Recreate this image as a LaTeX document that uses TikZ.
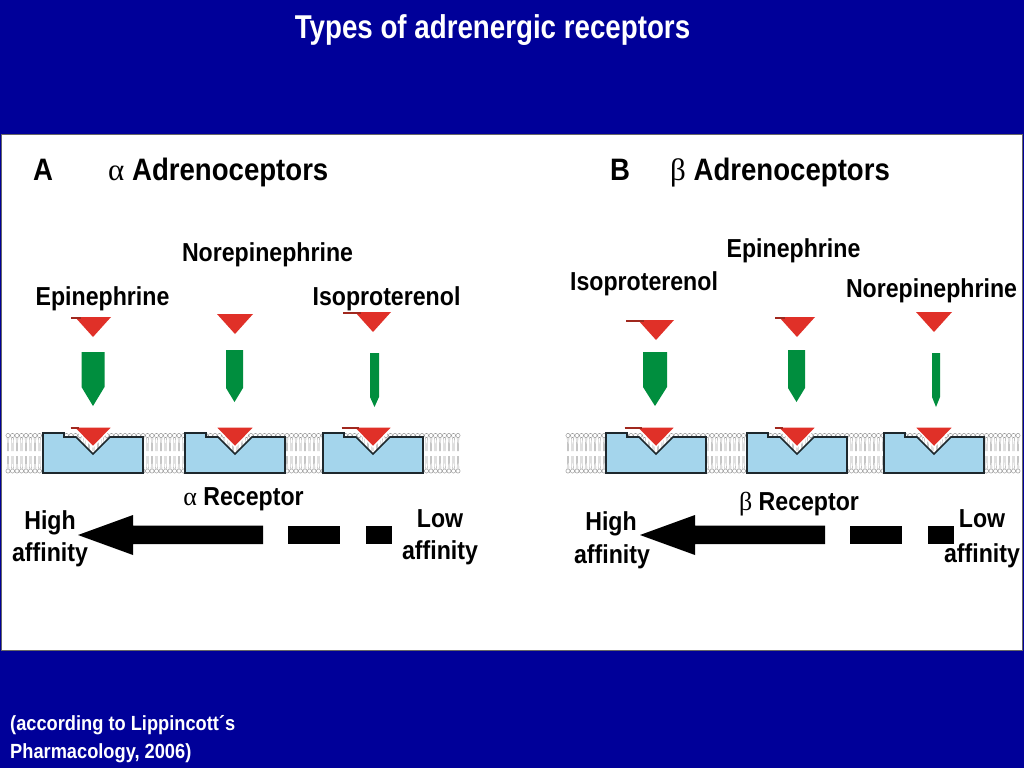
\documentclass[tikz,border=0pt]{standalone}
\usepackage{fontspec}
\setmainfont{Liberation Sans}[FakeStretch=0.89]
\newfontfamily\narrowfont[FakeStretch=0.84]{Liberation Sans}
\newfontfamily\greekfont{Liberation Serif}
\definecolor{slideblue}{RGB}{0,0,153}
\definecolor{drugred}{RGB}{224,48,40}
\definecolor{tailred}{RGB}{160,40,30}
\definecolor{pingreen}{RGB}{0,142,62}
\definecolor{recblue}{RGB}{164,213,236}
\definecolor{recline}{RGB}{30,40,45}
\newcommand{\membrane}[3]{%
  \foreach \lx in {#1,#2,...,#3} {
    \draw[lipidtail] (\lx-0.8,438) -- (\lx-0.6,451) (\lx+0.8,438) -- (\lx+0.6,451)
      (\lx-0.8,468.5) -- (\lx-0.6,456) (\lx+0.8,468.5) -- (\lx+0.6,456);
    \draw[lipidhead] (\lx,435.5) circle (2.1) (\lx,471) circle (2.1);
  }}
\newcommand{\receptor}[1]{%
  \draw[recbox] (#1-50,473) -- (#1-50,433) -- (#1-29,433) -- (#1-29,437) -- (#1-17,437)
    -- (#1,454) -- (#1+17,437) -- (#1+50,437) -- (#1+50,473) -- cycle;}
\newcommand{\drug}[3]{% tip x, top y, tail length
  \fill[drugred] (#1-18,#2) -- (#1+18,#2) -- (#1,#2+20) -- cycle;
  \ifnum#3>0 \draw[drugtail] (#1-18-#3,#2+1) -- (#1-12,#2+1);\fi}
\newcommand{\bounddrug}[2]{% notch x, tail length
  \filldraw[drugred, draw=white, line width=1.4] (#1-19.5,427) -- (#1+19.5,427) -- (#1,447) -- cycle;
  \ifnum#2>0 \draw[drugtail] (#1-19.5-#2,428) -- (#1-14,428);\fi}
\newcommand{\pin}[5]{% x, half width, top, shaft end, tip
  \fill[pingreen] (#1-#2,#3) -- (#1+#2,#3) -- (#1+#2,#4) -- (#1,#5) -- (#1-#2,#4) -- cycle;}
\newcommand{\affinity}[1]{% tip x
  \fill (#1,535) -- (#1+55,515) -- (#1+55,525.5) -- (#1+185,525.5) -- (#1+185,544)
    -- (#1+55,544) -- (#1+55,555) -- cycle;
  \fill (#1+210,525.5) rectangle (#1+262,544);
  \fill (#1+288,525.5) rectangle (#1+314,544);}
\begin{document}
\begin{tikzpicture}[x=1pt, y=-1pt,
  lipidhead/.style={draw=gray!80, fill=white, line width=0.5},
  lipidtail/.style={draw=gray!70, line width=0.45},
  recbox/.style={fill=recblue, draw=recline, line width=1.6, line join=miter},
  drugtail/.style={draw=tailred, line width=1.8},
  titletext/.style={font=\narrowfont\fontsize{33}{38}\selectfont\bfseries, text=white, anchor=base, inner sep=0pt},
  heading/.style={font=\fontsize{31}{36}\selectfont\bfseries, anchor=base west, inner sep=0pt},
  drugname/.style={font=\fontsize{26}{30}\selectfont\bfseries, anchor=base, inner sep=0pt},
  cite/.style={font=\fontsize{20.5}{24}\selectfont\bfseries, text=white, anchor=base west, inner sep=0pt}]

\useasboundingbox (0,0) rectangle (1024,768);
\fill[slideblue] (0,0) rectangle (1024,768);
\filldraw[fill=white, draw=gray!80!black, line width=1] (1,134) rectangle (1022,650);

\node[titletext] (title) at (492.5,38) {Types of adrenergic receptors};

% panel A
\node[heading] (panelA) at (33,180) {A};
\node[heading] (headA) at (108,180) {{\greekfont\mdseries α} Adrenoceptors};
\node[drugname] (epiA) at (102.5,305) {Epinephrine};
\node[drugname] (norA) at (267.5,261) {Norepinephrine};
\node[drugname] (isoA) at (386.5,305) {Isoproterenol};

\membrane{8}{12.5}{460}
\foreach \rx in {93,235,373} {\receptor{\rx}}
\bounddrug{93}{3}
\bounddrug{235}{0}
\bounddrug{373}{12}
\drug{93}{317}{4}
\drug{235}{314}{0}
\drug{373}{312}{12}
\pin{93}{11.5}{352}{387}{406}
\pin{234.5}{8.5}{350}{388}{402}
\pin{374.5}{4.5}{353}{397}{407}

\affinity{78}
\node[drugname] (recA) at (243.5,505) {{\greekfont\mdseries α} Receptor};
\node[drugname] (highA) at (50,529) {High};
\node[drugname] (highAaff) at (50,561) {affinity};
\node[drugname] (lowA) at (440,527) {Low};
\node[drugname] (lowAaff) at (440,559) {affinity};

% panel B
\node[heading] (panelB) at (610,180) {B};
\node[heading] (headB) at (670,180) {{\greekfont\mdseries β} Adrenoceptors};
\node[drugname] (isoB) at (644,290) {Isoproterenol};
\node[drugname] (epiB) at (793.5,257) {Epinephrine};
\node[drugname] (norB) at (931.5,297) {Norepinephrine};

\membrane{568}{572.5}{1021}
\foreach \rx in {656,797,934} {\receptor{\rx}}
\bounddrug{656}{12}
\bounddrug{797}{3}
\bounddrug{934}{0}
\drug{656}{320}{12}
\drug{797}{317}{4}
\drug{934}{312}{0}
\pin{655}{12}{352}{387}{406}
\pin{796.5}{8.5}{350}{388}{402}
\pin{936}{4}{353}{397}{407}

\affinity{640}
\node[drugname] (recB) at (799,510) {{\greekfont\mdseries β} Receptor};
\node[drugname] (highB) at (611,530) {High};
\node[drugname] (highBaff) at (612,563) {affinity};
\node[drugname] (lowB) at (982,527) {Low};
\node[drugname] (lowBaff) at (982,562) {affinity};

\node[cite] (cite) at (10,730) {(according to Lippincott´s};
\node[cite] (cite2) at (10,758) {Pharmacology, 2006)};

\end{tikzpicture}
\end{document}
